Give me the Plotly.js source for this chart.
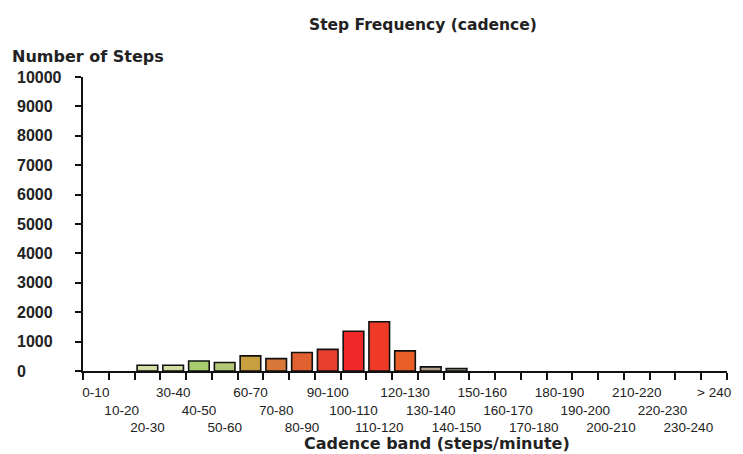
<!DOCTYPE html>
<html>
<head>
<meta charset="utf-8">
<script src="https://cdn.plot.ly/plotly-3.0.1.min.js"></script>
<style>html,body{margin:0;padding:0;background:#fff;}#chart{width:743px;height:454px;}</style>
</head>
<body>
<div id="chart"></div>
<script>
const categories = ["0-10","10-20","20-30","30-40","40-50","50-60","60-70","70-80","80-90","90-100",
  "100-110","110-120","120-130","130-140","140-150","150-160","160-170","170-180","180-190","190-200",
  "200-210","210-220","220-230","230-240","> 240"];
const steps = [0,0,195,195,340,290,515,420,630,735,1350,1675,685,140,85,0,0,0,0,0,0,0,0,0,0];
const barColors = ["#d8e0a8","#d8e0a8","#d6dea6","#d0dca0","#a8cc6e","#b2c876","#c8a040","#d87838",
  "#e06030","#e84030","#f02828","#f03a28","#e86028","#b0a088","#8a9a80","#cccccc","#cccccc","#cccccc",
  "#cccccc","#cccccc","#cccccc","#cccccc","#cccccc","#cccccc","#cccccc"];
const yTickVals = [0,1000,2000,3000,4000,5000,6000,7000,8000,9000,10000];
const yTickText = ["0","1000","2000","3000","4000","5000","6000","7000","8000","9000","10000"];
const titleText = "Step Frequency (cadence)";
const yTitleText = "Number of Steps";
const xTitleText = "Cadence band (steps/minute)";

const tickText = categories.map((c, i) => "<br>".repeat(i % 3) + c);
const lineWidths = steps.map(v => v > 0 ? 1.6 : 0);

const W = 743, H = 454, L = 83, R = 16, T = 77, B = 83;
const pw = W - L - R, ph = H - T - B;
const px = x => (x - L) / pw;
const py = y => (H - B - y) / ph;

const fontFam = "Liberation Sans, Arial, sans-serif";
const titleFam = "DejaVu Sans, Verdana, sans-serif";
const annotations = [
  {text: titleText, x: px(423), y: py(25), xref: "paper", yref: "paper", showarrow: false,
   xanchor: "center", yanchor: "middle", font: {family: titleFam, size: 15.5, color: "#222", weight: "bold"}},
  {text: yTitleText, x: px(10), y: py(57), xref: "paper", yref: "paper", showarrow: false,
   xanchor: "left", yanchor: "middle", font: {family: titleFam, size: 16, color: "#222", weight: "bold"}},
  {text: xTitleText, x: px(437), y: py(443), xref: "paper", yref: "paper", showarrow: false,
   xanchor: "center", yanchor: "middle", font: {family: titleFam, size: 16, color: "#222", weight: "bold"}}
];
yTickVals.forEach((v, i) => {
  annotations.push({text: yTickText[i], x: px(15), y: v, xref: "paper", yref: "y", showarrow: false,
    xanchor: "left", yanchor: "middle", font: {family: fontFam, size: 16, color: "#222", weight: "bold"}});
});

Plotly.newPlot("chart", [{
  type: "bar",
  x: categories,
  y: steps,
  marker: {color: barColors, line: {color: "#111", width: lineWidths}},
  width: 0.8,
  hoverinfo: "x+y"
}], {
  width: W, height: H,
  margin: {l: L, r: R, t: T, b: B, pad: 0},
  paper_bgcolor: "#fff", plot_bgcolor: "#fff",
  showlegend: false,
  bargap: 0.2,
  xaxis: {
    type: "category",
    tickmode: "array",
    tickvals: categories,
    ticktext: tickText,
    tickson: "boundaries",
    tickangle: 0,
    ticklabelstandoff: 8,
    ticks: "outside", ticklen: 7, tickwidth: 2, tickcolor: "#111",
    showline: true, linecolor: "#111", linewidth: 2,
    showgrid: false, zeroline: false,
    tickfont: {family: fontFam, size: 13.5, color: "#222"},
    range: [-0.5, categories.length - 0.5],
    fixedrange: true
  },
  yaxis: {
    range: [0, 10000],
    tickmode: "array",
    tickvals: yTickVals,
    showticklabels: false,
    ticks: "outside", ticklen: 6, tickwidth: 2, tickcolor: "#111",
    showline: true, linecolor: "#111", linewidth: 2,
    showgrid: false, zeroline: false,
    fixedrange: true
  },
  annotations: annotations
}, {displayModeBar: false, staticPlot: true});
</script>
</body>
</html>
